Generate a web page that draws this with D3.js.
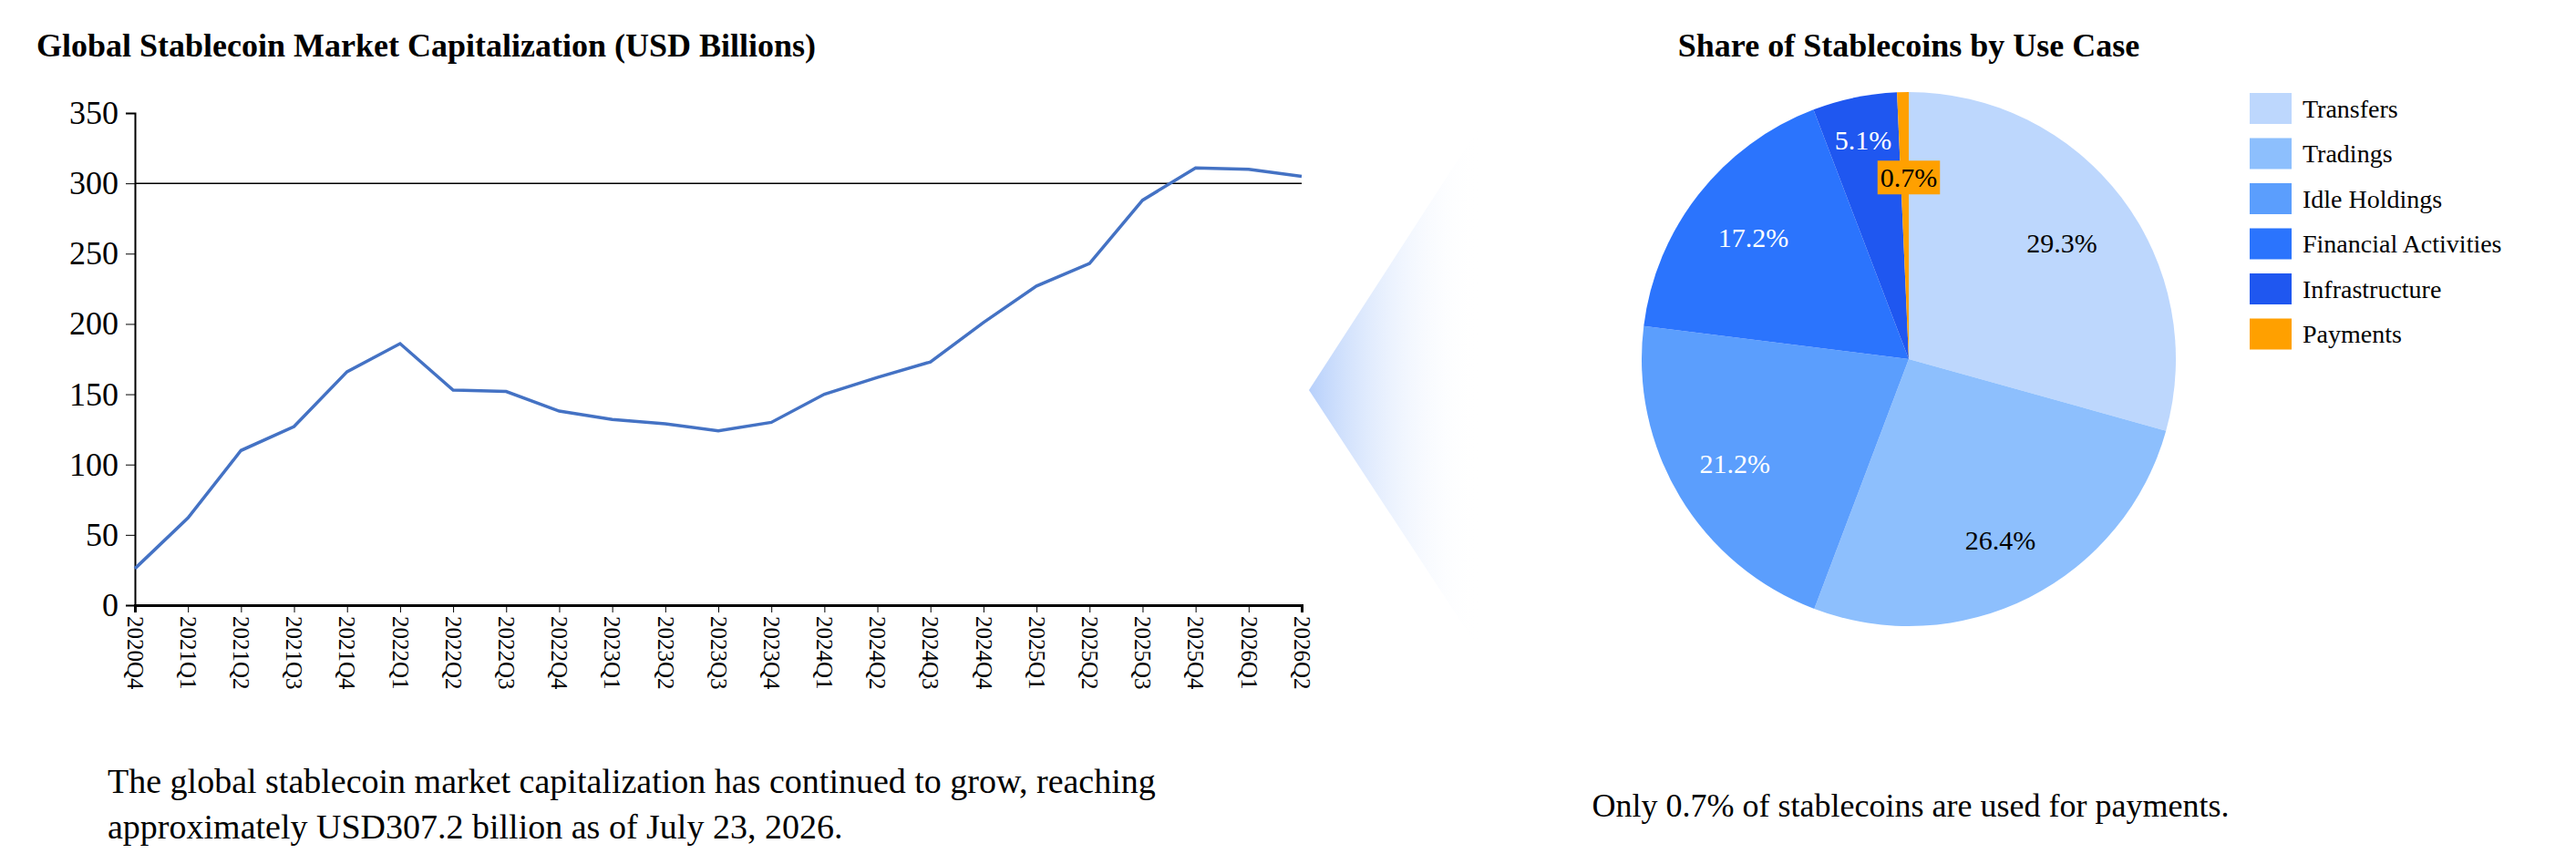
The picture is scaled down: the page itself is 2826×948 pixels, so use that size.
<!DOCTYPE html>
<html><head><meta charset="utf-8">
<script src="https://cdn.jsdelivr.net/npm/d3@7"></script>
<style>body{margin:0;background:#fff}svg{font-family:"Liberation Serif","Times New Roman",serif}</style>
</head><body>
<svg id="c" width="2826" height="948"></svg>
<script>
const quarters = ["2020Q4","2021Q1","2021Q2","2021Q3","2021Q4","2022Q1","2022Q2","2022Q3","2022Q4","2023Q1","2023Q2","2023Q3","2023Q4","2024Q1","2024Q2","2024Q3","2024Q4","2025Q1","2025Q2","2025Q3","2025Q4","2026Q1","2026Q2"];
const marketCap = [26,62,110,127,166,186,153,152,138,132,129,124,130,150,162,173,201,227,243,288,311,310,305];
const yTicks = [0,50,100,150,200,250,300,350];
const useCases = ["Transfers","Tradings","Idle Holdings","Financial Activities","Infrastructure","Payments"];
const shares = [29.3,26.4,21.2,17.2,5.1,0.7];
const colors = ["#BDD7FD","#8DBFFD","#5B9EFD","#2B74FD","#1F57F0","#FFA000"];
const labelColors = ["#000","#000","#fff","#fff","#fff","#000"];

const svg = d3.select("#c");
// Line chart
const x = d3.scalePoint().domain(quarters).range([148,1428]);
const y = d3.scaleLinear().domain([0,350]).range([664,124]);
svg.append("text").attr("x",40).attr("y",62).attr("font-size",36).attr("font-weight","bold").text("Global Stablecoin Market Capitalization (USD Billions)");
const ya = svg.append("g").attr("transform","translate(148,0)").call(d3.axisLeft(y).tickValues(yTicks).tickSize(10).tickPadding(8));
ya.selectAll("text").attr("font-size",36).attr("font-family","Liberation Serif").attr("fill","#000");
ya.select(".domain").attr("stroke","#000").attr("stroke-width",2);
const xa = svg.append("g").attr("transform","translate(0,664)").call(d3.axisBottom(x).tickSize(8).tickPadding(0));
xa.select(".domain").attr("stroke","#000").attr("stroke-width",3);
xa.selectAll("text").attr("font-size",25).attr("font-family","Liberation Serif").attr("fill","#000")
  .attr("transform","rotate(90)").attr("text-anchor","start").attr("dy","0.35em").attr("x",12).attr("y",0);
svg.append("line").attr("x1",148).attr("x2",1428).attr("y1",y(300)).attr("y2",y(300)).attr("stroke","#000").attr("stroke-width",1.5);
svg.append("path").datum(marketCap).attr("fill","none").attr("stroke","#4472C4").attr("stroke-width",3.5)
  .attr("d",d3.line().x((d,i)=>x(quarters[i])).y(d=>y(d)));
svg.append("text").attr("x",118).attr("y",870).attr("font-size",38).text("The global stablecoin market capitalization has continued to grow, reaching");
svg.append("text").attr("x",118).attr("y",920).attr("font-size",38).text("approximately USD307.2 billion as of July 23, 2026.");

// Gradient wedge
const defs = svg.append("defs");
const g = defs.append("linearGradient").attr("id","wg").attr("x1","0").attr("x2","1").attr("y1","0").attr("y2","0");
g.append("stop").attr("offset","0").attr("stop-color","#B7D0FB");
g.append("stop").attr("offset","1").attr("stop-color","#fff").attr("stop-opacity",0);
svg.append("polygon").attr("points","1436,428 1623,139 1623,713").attr("fill","url(#wg)");

// Pie
const cx=2094, cy=394, r=293;
svg.append("text").attr("x",2094).attr("y",62).attr("text-anchor","middle").attr("font-size",36).attr("font-weight","bold").text("Share of Stablecoins by Use Case");
const pie = d3.pie().sort(null).value(d=>d)(shares);
const arc = d3.arc().innerRadius(0).outerRadius(r);
const pg = svg.append("g").attr("transform",`translate(${cx},${cy})`);
pg.selectAll("path").data(pie).join("path").attr("d",arc).attr("fill",(d,i)=>colors[i]);
const labelPos = [[0.72],[0.76],[0.76],[0.74],[0.84],[0.74]];
const la = d3.arc().innerRadius(0).outerRadius(r);
pie.forEach((d,i)=>{
  const a=(d.startAngle+d.endAngle)/2;
  let rr = r*labelPos[i][0];
  let px = Math.sin(a)*rr, py = -Math.cos(a)*rr;
  if(i===5){px=0;py=-r*0.68;}
  const t = pg.append("text").attr("x",px).attr("y",py).attr("text-anchor","middle").attr("dy","0.35em")
    .attr("font-size",30).attr("fill",labelColors[i]).text(shares[i].toFixed(1)+"%");
  if(i===5){
    const b=t.node().getBBox();
    pg.insert("rect","text:last-child").attr("x",b.x-3).attr("y",b.y-2).attr("width",b.width+6).attr("height",b.height+4).attr("fill","#FFA000");
  }
});
// Legend
const lg = svg.append("g");
useCases.forEach((u,i)=>{
  const yy = 119 + i*49.5;
  lg.append("rect").attr("x",2468).attr("y",yy-17).attr("width",46).attr("height",34).attr("fill",colors[i]);
  lg.append("text").attr("x",2526).attr("y",yy).attr("dy","0.35em").attr("font-size",28).text(u);
});
svg.append("text").attr("x",2096).attr("y",896).attr("text-anchor","middle").attr("font-size",36).text("Only 0.7% of stablecoins are used for payments.");
</script>
</body></html>
